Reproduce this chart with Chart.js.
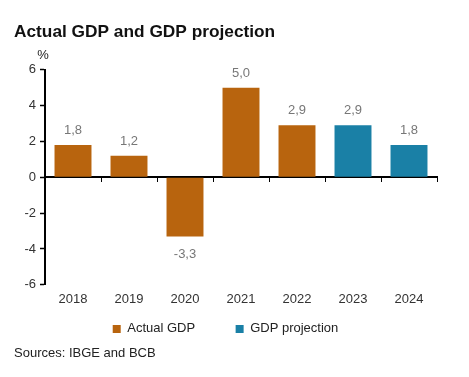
<!DOCTYPE html>
<html>
<head>
<meta charset="utf-8">
<script src="https://cdn.jsdelivr.net/npm/chart.js@4/dist/chart.umd.min.js"></script>
<style>
  html, body { margin: 0; padding: 0; background: #fff; }
  #wrap { width: 469px; height: 377px; }
</style>
</head>
<body>
<div id="wrap"><canvas id="gdp-chart"></canvas></div>
<script>
const years = ['2018', '2019', '2020', '2021', '2022', '2023', '2024'];
const actualGdp = [1.8, 1.2, -3.3, 5.0, 2.9, null, null];
const gdpProjection = [null, null, null, null, null, 2.9, 1.8];
const yTicks = [-6, -4, -2, 0, 2, 4, 6];

const orange = 'rgb(184, 100, 14)';
const blue = 'rgb(26, 128, 166)';
const font = 'Liberation Sans, Arial, sans-serif';

// value labels over / under the bars, plus the "%" unit on top of the y axis
const labelsPlugin = {
  id: 'barLabels',
  afterDatasetsDraw(chart) {
    const ctx = chart.ctx;
    ctx.save();
    ctx.font = '13px ' + font;
    ctx.fillStyle = '#777';
    ctx.textAlign = 'center';
    chart.data.datasets.forEach((ds, i) => {
      chart.getDatasetMeta(i).data.forEach((bar, j) => {
        const v = ds.data[j];
        if (v === null) return;
        const txt = v.toFixed(1).replace('.', ',');
        if (v >= 0) {
          ctx.textBaseline = 'bottom';
          ctx.fillText(txt, bar.x, bar.y - 8);
        } else {
          ctx.textBaseline = 'top';
          ctx.fillText(txt, bar.x, bar.y + 12);
        }
      });
    });
    const y = chart.scales.y;
    ctx.fillStyle = '#222';
    ctx.textBaseline = 'bottom';
    ctx.fillText('%', y.right - 2, chart.chartArea.top - 8);
    ctx.restore();
  }
};

new Chart(document.getElementById('gdp-chart'), {
  type: 'bar',
  data: {
    labels: years,
    datasets: [
      {
        label: 'Actual GDP',
        data: actualGdp,
        backgroundColor: orange,
        grouped: false,
        barPercentage: 0.66,
        categoryPercentage: 1
      },
      {
        label: 'GDP projection',
        data: gdpProjection,
        backgroundColor: blue,
        grouped: false,
        barPercentage: 0.66,
        categoryPercentage: 1
      }
    ]
  },
  options: {
    responsive: true,
    maintainAspectRatio: false,
    animation: false,
    layout: { padding: { left: 14, right: 32, top: 0, bottom: 0 } },
    plugins: {
      title: {
        display: true,
        text: 'Actual GDP and GDP projection',
        align: 'start',
        color: '#111',
        font: { family: font, size: 17.3, weight: 'bold' },
        padding: { top: 22, bottom: 27 }
      },
      legend: {
        position: 'bottom',
        labels: {
          boxWidth: 8,
          boxHeight: 8,
          color: '#222',
          padding: 8,
          font: { family: font, size: 13 },
          // wider gap between the two entries, as in the original
          generateLabels(chart) {
            const items = Chart.defaults.plugins.legend.labels.generateLabels(chart);
            items[0].text = items[0].text + '\u2003\u2003\u2002';
            return items;
          }
        }
      },
      subtitle: {
        display: true,
        position: 'bottom',
        align: 'start',
        text: 'Sources: IBGE and BCB',
        color: '#222',
        font: { family: font, size: 13 },
        padding: { top: 0, bottom: 16 }
      },
      tooltip: { enabled: false }
    },
    scales: {
      x: {
        type: 'category',
        position: { y: 0 },
        offset: true,
        grid: {
          offset: true,
          drawOnChartArea: false,
          drawTicks: true,
          tickLength: 4,
          tickColor: '#000'
        },
        border: { display: true, color: '#000', width: 2 },
        ticks: { display: false }
      },
      x2: {
        type: 'category',
        position: 'bottom',
        offset: true,
        grid: { display: false, drawTicks: false },
        border: { display: false },
        ticks: {
          color: '#333',
          padding: 7,
          font: { family: font, size: 13 }
        }
      },
      y: {
        min: -6,
        max: 6,
        afterBuildTicks(axis) {
          axis.ticks = yTicks.map(v => ({ value: v }));
        },
        afterFit(axis) {
          axis.width = 31;
        },
        grid: {
          drawOnChartArea: false,
          drawTicks: true,
          tickLength: 5,
          tickColor: '#000',
          tickWidth: 1.5
        },
        border: { display: true, color: '#000', width: 2 },
        ticks: {
          color: '#333',
          padding: 4,
          font: { family: font, size: 13 }
        }
      }
    }
  },
  plugins: [labelsPlugin]
});
</script>
</body>
</html>
